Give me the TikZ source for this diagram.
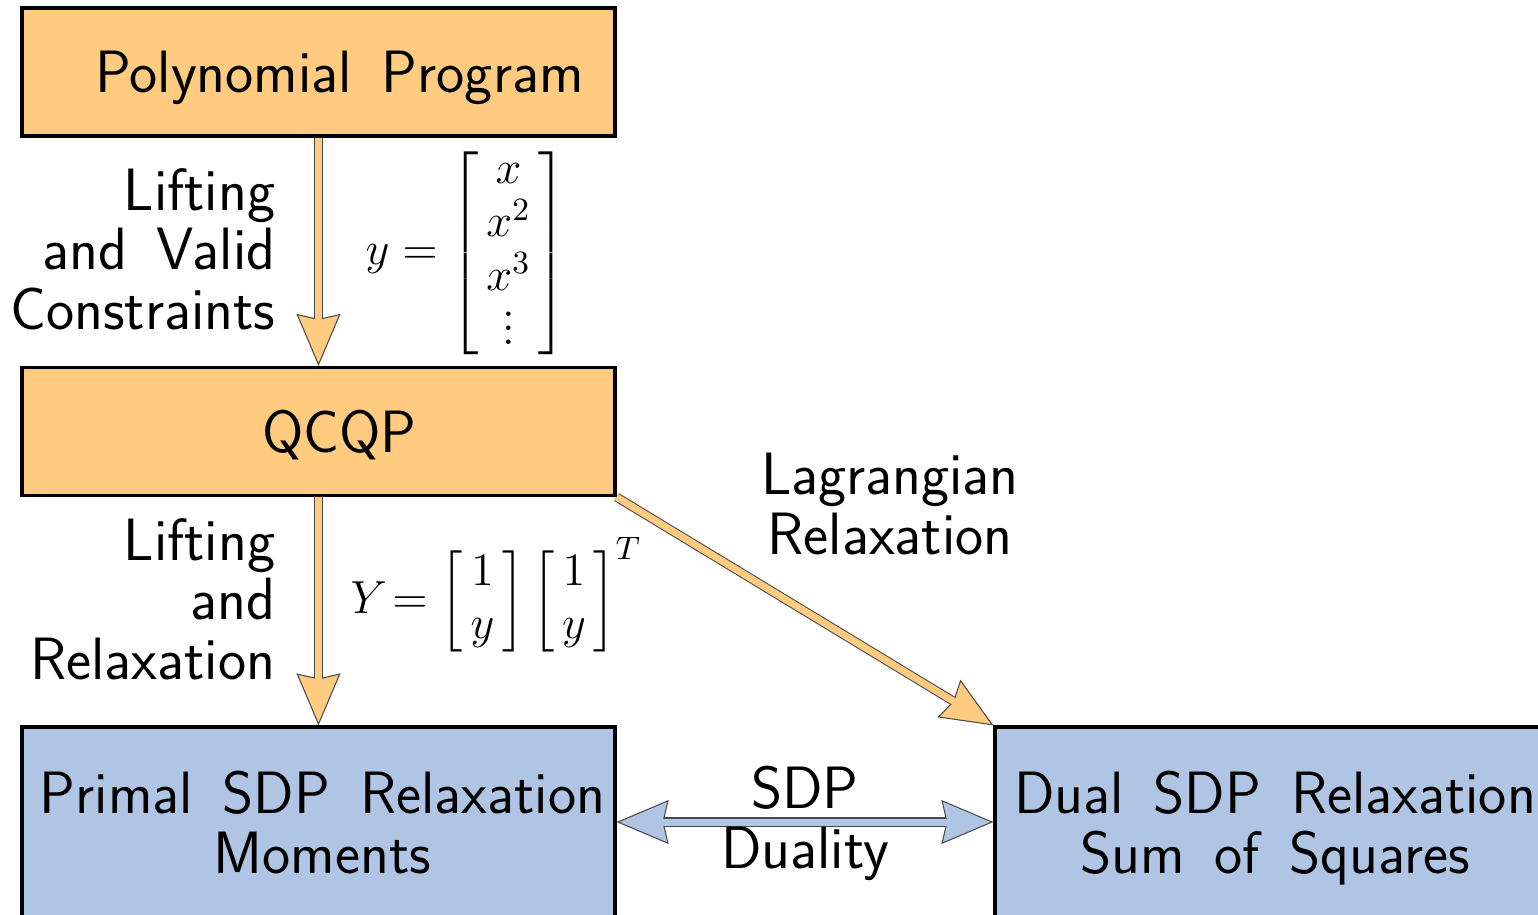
\RequirePackage{fix-cm}
\documentclass[tikz,border=0pt]{standalone}
\usepackage{amsmath}
\usetikzlibrary{arrows.meta}
\definecolor{pp-orange}{HTML}{FFCB80}
\definecolor{pp-blue}{HTML}{B0C4E4}
\definecolor{pp-edge}{HTML}{4A4A4A}
\newcommand{\bigsans}{\sffamily\fontsize{17}{17}\selectfont\spaceskip=0.5em\relax}
\newcommand{\mathsz}{\fontsize{13.2}{15.2}\selectfont}

\begin{document}
\begin{tikzpicture}[
    % problem boxes
    probbox/.style={draw=black, line width=0.9pt, minimum width=5.93cm, inner sep=2pt,
      text depth=0pt, align=center, font=\bigsans},
    orangebox/.style={probbox, fill=pp-orange, minimum height=1.28cm},
    bluebox/.style={probbox, fill=pp-blue, minimum height=1.9cm},
    % text beside the arrows
    steplabel/.style={font=\bigsans, align=right, anchor=east, inner sep=0pt},
    edgelabel/.style={font=\bigsans, align=center, inner sep=0pt},
    mathlabel/.style={font=\mathsz, anchor=west, inner sep=0pt},
    % outlined fat arrows
    liftarrow/.style={draw=pp-edge, line width=2.6pt,
      -{Stealth[length=5.2mm, width=4.4mm, inset=0.5mm, line width=0.3pt, fill=pp-orange]},
      postaction={draw=pp-orange, line width=2pt, -, shorten >=4mm}},
    dualarrow/.style={draw=pp-edge, line width=2.6pt,
      {Stealth[length=5.2mm, width=4.4mm, inset=0.5mm, line width=0.3pt, fill=pp-blue]}-{Stealth[length=5.2mm, width=4.4mm, inset=0.5mm, line width=0.3pt, fill=pp-blue]},
      postaction={draw=pp-blue, line width=2pt, -, shorten >=4mm, shorten <=4mm}}
  ]
  \useasboundingbox (0,0) rectangle (15.38,-9.14);

  % =========================================================================
  % PROBLEMS
  % =========================================================================
  \node[orangebox] (poly) at (3.185,-0.72) {\hspace*{0.42cm}Polynomial Program};
  \node[orangebox] (qcqp) at (3.185,-4.315) {\hspace*{0.42cm}QCQP};
  \node[bluebox] (primal) at (3.185,-8.22) {\hspace*{0.08cm}Primal SDP Relaxation\\\hspace*{0.08cm}Moments};
  \node[bluebox, minimum width=5.6cm] (dual) at (12.75,-8.22) {Dual SDP Relaxation\\Sum of Squares};

  % =========================================================================
  % REFORMULATION STEPS
  % =========================================================================
  \draw[liftarrow] (poly) -- (qcqp);
  \node[steplabel] (lift1) at (2.76,-2.49) {Lifting\\and Valid\\Constraints};
  \node[mathlabel] (ymap) at (3.65,-2.53)
    {$y = \left[\begin{array}{@{\,}c@{\,}} x \\ x^2 \\ x^3 \\ \smash[t]{\vdots} \end{array}\right]$};

  \draw[liftarrow] (qcqp) -- (primal);
  \node[steplabel] (lift2) at (2.76,-5.99) {Lifting\\and\\Relaxation};
  \node[mathlabel] (Ymap) at (3.50,-5.96)
    {$Y\!= \left[\begin{array}{@{\,}c@{\,}} 1 \\ y \end{array}\right]
      \left[\begin{array}{@{\,}c@{\,}} 1 \\ y \end{array}\right]^T$};

  \draw[liftarrow] (qcqp.south east) -- (dual.north west);
  \node[edgelabel] (lagr) at (8.9,-5.04) {Lagrangian\\Relaxation};

  % duality between the two relaxations
  \draw[dualarrow] (primal) -- (dual);
  \node[edgelabel] (sdpdual) at (8.05,-8.23) {SDP\\Duality};

\end{tikzpicture}
\end{document}
